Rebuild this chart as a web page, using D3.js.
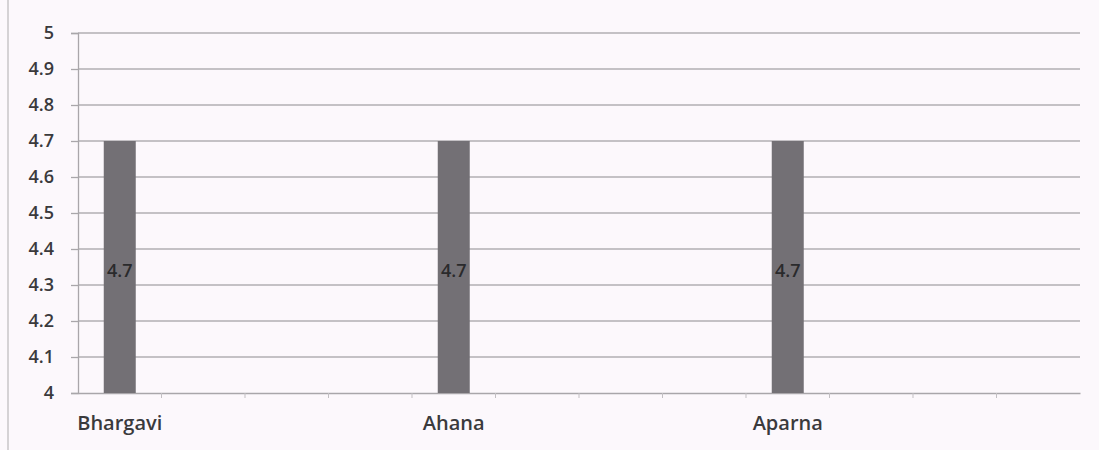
<!DOCTYPE html>
<html><head><meta charset="utf-8">
<script src="https://cdn.jsdelivr.net/npm/d3@7/dist/d3.min.js"></script>
<style>body{margin:0;background:#fcf8fc;} svg{display:block;}</style>
</head><body><svg id="c" width="1099" height="450"></svg>
<script>
const categories = ["Bhargavi","c2","c3","c4","Ahana","c6","c7","c8","Aparna","c10","c11","c12"];
const categoryLabels = ["Bhargavi","","","","Ahana","","","","Aparna","","",""];
const values = [4.7,null,null,null,4.7,null,null,null,4.7,null,null,null];
const yTicks = [4,4.1,4.2,4.3,4.4,4.5,4.6,4.7,4.8,4.9,5];
const yTickLabels = ["4","4.1","4.2","4.3","4.4","4.5","4.6","4.7","4.8","4.9","5"];

const FONT = "'Open Sans','DejaVu Sans',sans-serif";
const svg = d3.select("#c");
const m = {l:78, r:19, t:33, b:57};
const W = 1099, H = 450;
const x = d3.scaleBand().domain(categories).range([m.l, W-m.r]).paddingInner(0).paddingOuter(0);
const y = d3.scaleLinear().domain([4,5]).range([H-m.b, m.t]);

// page edge line
svg.append("line").attr("x1",8).attr("x2",8).attr("y1",0).attr("y2",H).attr("stroke","#c9c6c9").attr("stroke-width",1.5);

// gridlines
svg.append("g").selectAll("line").data(yTicks.slice(1)).join("line")
  .attr("x1",m.l).attr("x2",W-m.r).attr("y1",d=>y(d)).attr("y2",d=>y(d))
  .attr("stroke","#b2afb3").attr("stroke-width",1.3);

// y axis
const yAxis = d3.axisLeft(y).tickValues(yTicks).tickSize(7).tickPadding(17)
  .tickFormat((d,i)=>yTickLabels[i]);
const gy = svg.append("g").attr("transform",`translate(${m.l},0)`).call(yAxis);
gy.select(".domain").attr("stroke","#a9a6aa").attr("stroke-width",1.3);
gy.selectAll(".tick line").attr("stroke","#a9a6aa").attr("stroke-width",1.3);
gy.selectAll("text").attr("font-family",FONT).attr("font-size",18).attr("font-weight",600).attr("fill","#3a3a3c");

// x axis
const xAxis = d3.axisBottom(x).tickSize(0).tickFormat((d,i)=>categoryLabels[i]).tickPadding(23);
const gx = svg.append("g").attr("transform",`translate(0,${H-m.b})`).call(xAxis);
gx.select(".domain").attr("stroke","#a9a6aa").attr("stroke-width",1.3);
gx.selectAll("text").attr("font-family",FONT).attr("font-size",20).attr("font-weight",600).attr("fill","#3a3a3c");
// category boundary ticks
gx.append("g").selectAll("line").data(categories.slice(1)).join("line")
  .attr("x1",d=>x(d)).attr("x2",d=>x(d)).attr("y1",0).attr("y2",5)
  .attr("stroke","#c2bfc3");

// bars
const bw = 32;
const bars = categories.map((c,i)=>({c, v: values[i]})).filter(d=>d.v!=null);
svg.append("g").selectAll("rect").data(bars).join("rect")
  .attr("x",d=>x(d.c)+x.bandwidth()/2-bw/2).attr("width",bw)
  .attr("y",d=>y(d.v)).attr("height",d=>y(4)-y(d.v))
  .attr("fill","#737075");

svg.append("g").selectAll("text").data(bars).join("text")
  .attr("x",d=>x(d.c)+x.bandwidth()/2).attr("y",d=>(y(d.v)+y(4))/2+10)
  .attr("text-anchor","middle").attr("font-family",FONT).attr("font-weight",600)
  .attr("font-size",18).attr("fill","#2a2a2c").text(d=>d.v);
</script></body></html>
